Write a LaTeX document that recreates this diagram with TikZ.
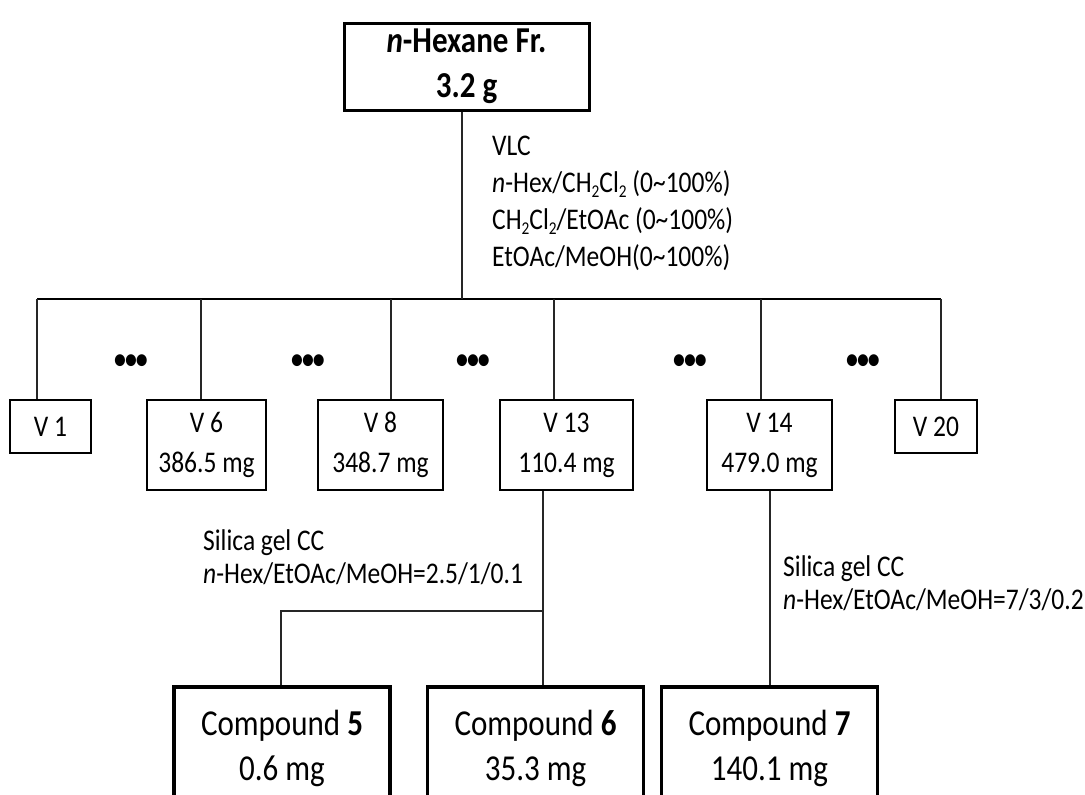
\documentclass[tikz,border=0pt]{standalone}
\usepackage{fontspec}
\setmainfont{Carlito}[FakeStretch=0.85]
\newcommand\chsub[1]{\raisebox{-0.35ex}{\fontsize{18}{18}\selectfont #1}}
\begin{document}
\begin{tikzpicture}[x=1pt,y=-1pt,
 conn/.style={line width=1.2pt, draw=black!85},
 bar/.style={line width=2.2pt},
 topbox/.style={draw, line width=3pt, minimum width=245, minimum height=87, align=center, font=\fontsize{36.5}{45}\selectfont\bfseries, inner sep=0},
 vbox/.style={draw, line width=1.5pt, minimum height=90, align=center, font=\fontsize{30}{40}\selectfont, inner sep=0},
 cbox/.style={draw, line width=3.5pt, minimum width=216, minimum height=160, anchor=north, inner sep=0},
 ctext/.style={align=center, font=\fontsize{36.5}{45}\selectfont, inner sep=0},
 note/.style={align=left, anchor=west, font=\fontsize{30}{37}\selectfont, inner sep=0},
 dots/.style={font=\fontsize{28}{28}\selectfont\bfseries, inner sep=0}]
\useasboundingbox (0,0) rectangle (1085,795);
\clip (0,0) rectangle (1085,795);

\node[topbox] (top) at (466.5,66.5) {\textit{n}-Hexane Fr.\\3.2 g};

\node[vbox, minimum width=81, minimum height=53] (v1) at (50.5,426.5) {V 1};
\node[vbox, minimum width=119] (v6) at (206.5,445) {V 6\\386.5 mg};
\node[vbox, minimum width=125] (v8) at (380.5,445) {V 8\\348.7 mg};
\node[vbox, minimum width=133] (v13) at (566.5,445) {V 13\\110.4 mg};
\node[vbox, minimum width=125] (v14) at (769.5,445) {V 14\\479.0 mg};
\node[vbox, minimum width=82, minimum height=53] (v20) at (936,426.5) {V 20};

\coordinate (bl) at (37,299);
\coordinate (br) at (941,299);
\coordinate (bm) at (462,299);
\draw[bar] (bl) -- (br);
\draw[conn] (top.south -| bm) -- (bm);
\foreach \x/\n in {37/v1,201/v6,391/v8,554/v13,761/v14,941/v20}
  \draw[conn] (\x,299) -- (\x,0 |- \n.north);

\foreach \x [count=\i] in {131,308,473,690,863}
  \node[dots] (d\i) at (\x,362) {\textbullet\kern-1pt\textbullet\kern-1pt\textbullet};

\node[note] (vlc) at (492,203) {VLC\\\textit{n}-Hex/CH\chsub{2}Cl\chsub{2} (0\textasciitilde100\%)\\CH\chsub{2}Cl\chsub{2}/EtOAc (0\textasciitilde100\%)\\EtOAc/MeOH(0\textasciitilde100\%)};

\node[cbox] (c5) at (282,685) {};
\node[cbox] (c6) at (535.5,685) {};
\node[cbox] (c7) at (769.5,685) {};
\node[ctext] (c5t) at (282,748) {Compound \textbf{5}\\0.6 mg};
\node[ctext] (c6t) at (535.5,748) {Compound \textbf{6}\\35.3 mg};
\node[ctext] (c7t) at (769.5,748) {Compound \textbf{7}\\140.1 mg};

\coordinate (j13) at (543,611);
\coordinate (j5) at (281,611);
\coordinate (j14) at (770,600);
\draw[conn] (v13.south -| j13) -- (c6.north -| j13);
\draw[conn] (j13) -- (j5) -- (j5 |- c5.north);
\draw[conn] (v14.south -| j14) -- (c7.north -| j14);

\node[note, font=\fontsize{30}{33}\selectfont] (s1) at (203,557) {Silica gel CC\\\textit{n}-Hex/EtOAc/MeOH=2.5/1/0.1};
\node[note, font=\fontsize{30}{33}\selectfont] (s2) at (783,583.5) {Silica gel CC\\\textit{n}-Hex/EtOAc/MeOH=7/3/0.2};
\end{tikzpicture}
\end{document}
